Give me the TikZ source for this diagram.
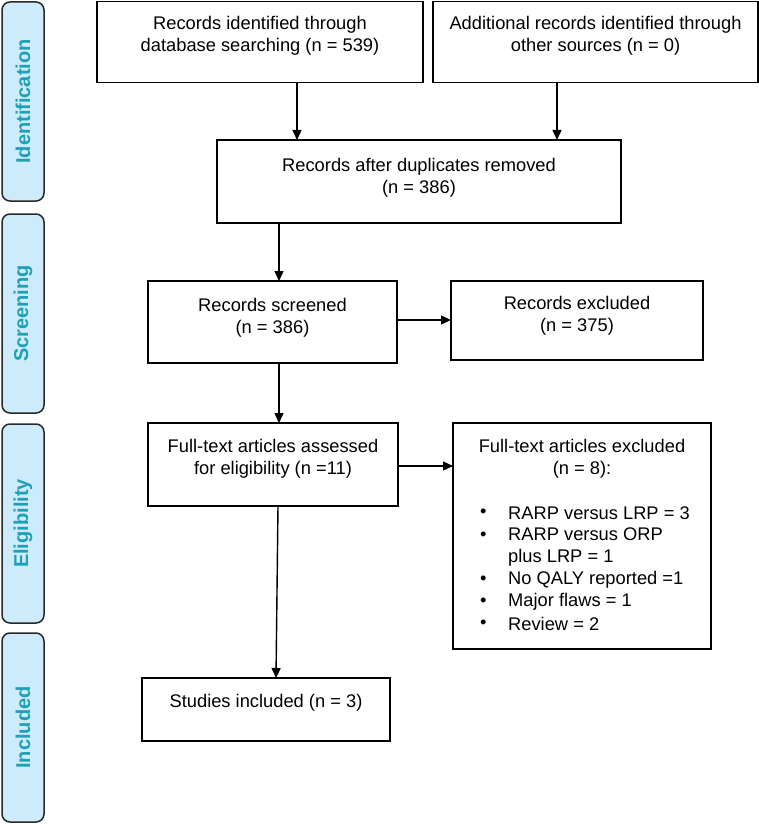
\documentclass[tikz,border=0pt]{standalone}
\usepackage{fontspec}
\setmainfont{Liberation Sans}
\usetikzlibrary{arrows.meta}
\definecolor{sidefill}{RGB}{205,235,251}
\definecolor{sidetext}{RGB}{30,160,182}
\definecolor{sideline}{RGB}{40,40,40}
\begin{document}
\begin{tikzpicture}[x=1pt,y=-1pt,
  frame/.style={draw, line width=1.5pt, inner sep=0pt, outer sep=0pt, anchor=north west},
  side/.style={draw=sideline, fill=sidefill, line width=1.5pt, rounded corners=8pt, inner sep=0pt, outer sep=0pt, anchor=north west, minimum width=42pt},
  sidelabel/.style={rotate=90, text=sidetext, font=\fontsize{20}{24}\selectfont\bfseries},
  txt/.style={align=center, inner sep=0pt, font=\fontsize{18.3}{21.7}\selectfont},
  item/.style={anchor=west, inner sep=0pt, font=\fontsize{18.3}{21.7}\selectfont},
  arr/.style={line width=1.4pt, -{Triangle[length=10pt,width=9pt]}}
]
\useasboundingbox (0,0) rectangle (759,824);
% side bars
\node[side, minimum height=199pt] (sid) at (2,2) {};
\node[sidelabel] (lid) at (sid.center) {Identification};
\node[side, minimum height=199pt] (sscr) at (2,214) {};
\node[sidelabel] (lscr) at (sscr.center) {Screening};
\node[side, minimum height=199pt] (selg) at (2,424) {};
\node[sidelabel] (lelg) at (selg.center) {Eligibility};
\node[side, minimum height=189pt] (sinc) at (2,633) {};
\node[sidelabel] (linc) at (sinc.center) {Included};
% boxes
\node[frame, minimum width=326pt, minimum height=81pt] (b1) at (97,1.5) {};
\node[txt] (t1) at (260,36) {Records identified through\\database searching (n = 539)};
\node[frame, minimum width=325pt, minimum height=81pt] (b2) at (433,1.5) {};
\node[txt] (t2) at (595.5,36) {Additional records identified through\\other sources (n = 0)};
\node[frame, minimum width=404pt, minimum height=83pt] (b3) at (217,140) {};
\node[txt] (t3) at (419,177.5) {Records after duplicates removed\\(n = 386)};
\node[frame, minimum width=249pt, minimum height=82pt] (b4) at (148,281) {};
\node[txt] (t4) at (272.5,317.5) {Records screened\\(n = 386)};
\node[frame, minimum width=252pt, minimum height=79pt] (b5) at (451,281) {};
\node[txt] (t5) at (577,316) {Records excluded\\(n = 375)};
\node[frame, minimum width=250pt, minimum height=83pt] (b6) at (148,423) {};
\node[txt] (t6) at (273,459) {Full-text articles assessed\\for eligibility (n =11)};
\node[frame, minimum width=258pt, minimum height=226pt] (b7) at (453,423) {};
\node[txt] (t7) at (582,459) {Full-text articles excluded\\(n = 8):};
\node[item] (i1) at (480,513) {•};
\node[item] (j1) at (508,513) {RARP versus LRP = 3};
\node[item] (i2) at (480,536) {•};
\node[item, align=left] (j2) at (508,547) {RARP versus ORP\\plus LRP = 1};
\node[item] (i3) at (480,580) {•};
\node[item] (j3) at (508,580) {No QALY reported =1};
\node[item] (i4) at (480,602) {•};
\node[item] (j4) at (508,602) {Major flaws = 1};
\node[item] (i5) at (480,624) {•};
\node[item] (j5) at (508,624) {Review = 2};
\node[frame, minimum width=248pt, minimum height=63pt] (b8) at (142,678) {};
\node[txt] (t8) at (266,703) {Studies included (n = 3)};
% arrows
\draw[arr] (b1.south -| 297,0) -- (b3.north -| 297,0);
\draw[arr] (b2.south -| 557,0) -- (b3.north -| 557,0);
\draw[arr] (b3.south -| 279,0) -- (b4.north -| 279,0);
\draw[arr] (b4.east |- 0,320) -- (b5.west |- 0,320);
\draw[arr] (b4.south -| 279,0) -- (b6.north -| 279,0);
\draw[arr] (b6.east |- 0,466) -- (b7.west |- 0,466);
\draw[arr] (b6.south -| 278,0) -- (b8.north -| 276,0);
\end{tikzpicture}
\end{document}
